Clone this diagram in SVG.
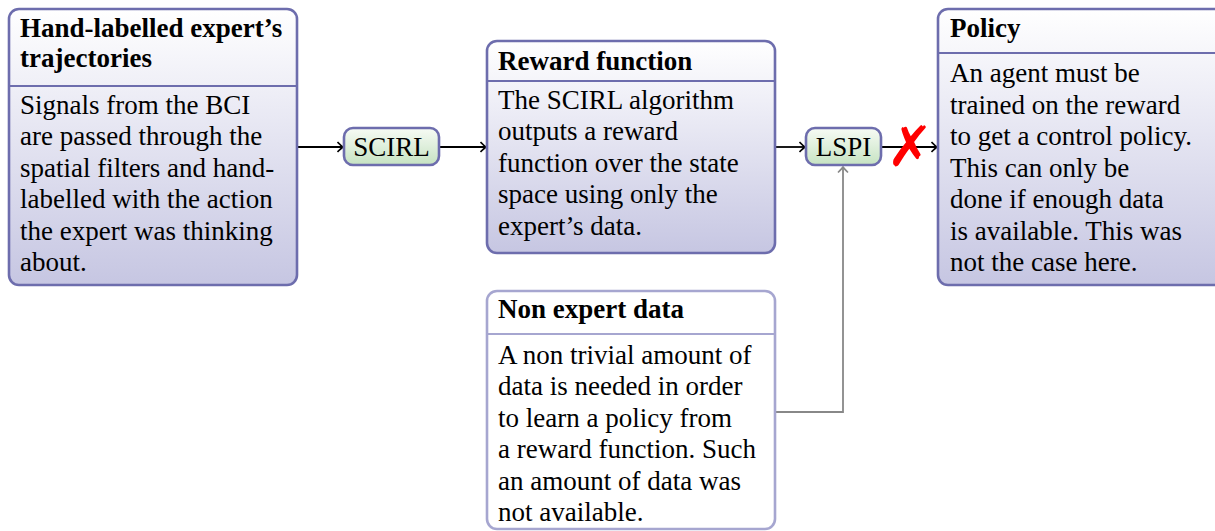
<svg xmlns="http://www.w3.org/2000/svg" width="1215" height="531" viewBox="0 0 1215 531">
<style>
text{font-family:"Liberation Serif","Times New Roman",serif;font-size:27px;fill:#000}
.h{font-weight:bold}
.box{stroke:#6d6dad;stroke-width:2.6;fill:url(#gb)}
.box2{stroke:#a6a6d0;stroke-width:2.6;fill:#fff}
.div{stroke:#6d6dad;stroke-width:2}
.div2{stroke:#a6a6d0;stroke-width:2}
.op{stroke:#6d6dad;stroke-width:2.6;fill:url(#gg)}
.c{text-anchor:middle}
.arr{stroke:#000;stroke-width:1.8;fill:none;marker-end:url(#ah)}
.garr{stroke:#888;stroke-width:1.8;fill:none;marker-end:url(#ahg)}
.x{font-family:"DejaVu Sans",sans-serif;font-size:56px;font-weight:bold;fill:#ff0000}
</style>
<defs>
<linearGradient id="gb" x1="0" y1="0" x2="0" y2="1">
<stop offset="0" stop-color="#ffffff"/>
<stop offset="1" stop-color="#c6c6e2"/>
</linearGradient>
<linearGradient id="gg" x1="0" y1="0" x2="0" y2="1">
<stop offset="0" stop-color="#f7fbf5"/>
<stop offset="1" stop-color="#c6e3c2"/>
</linearGradient>
<marker id="ah" viewBox="-6 -6 8 12" markerWidth="8" markerHeight="12" refX="0.5" refY="0" orient="auto" markerUnits="userSpaceOnUse">
<path d="M-5,-5 Q-1,-1 0.5,0 Q-1,1 -5,5" fill="none" stroke="#000" stroke-width="1.6"/>
</marker>
<marker id="ahg" viewBox="-6 -6 8 12" markerWidth="8" markerHeight="12" refX="0.5" refY="0" orient="auto" markerUnits="userSpaceOnUse">
<path d="M-5,-5 Q-1,-1 0.5,0 Q-1,1 -5,5" fill="none" stroke="#888" stroke-width="1.6"/>
</marker>
</defs>

<g id="connectors">
<path class="arr" d="M297,147 H343"/>
<path class="arr" d="M439,147 H486"/>
<path class="arr" d="M775,147 H805"/>
<path class="arr" d="M881,147 H937"/>
<path class="garr" d="M775,412 H843 V167"/>
<text x="910" y="166" class="c x">✗</text>
</g>

<g id="hand-labelled">
<rect class="box" x="9" y="9" width="288" height="276" rx="10"/>
<line class="div" x1="9" y1="86" x2="297" y2="86"/>
<text class="h" x="20" y="37">Hand-labelled expert’s</text>
<text class="h" x="20" y="67">trajectories</text>
<text x="20" y="114">Signals from the BCI</text>
<text x="20" y="145">are passed through the</text>
<text x="20" y="177">spatial filters and hand-</text>
<text x="20" y="208">labelled with the action</text>
<text x="20" y="240">the expert was thinking</text>
<text x="20" y="271">about.</text>
</g>

<g id="scirl">
<rect class="op" x="344" y="128" width="95" height="37" rx="9"/>
<text class="c" x="391.5" y="156">SCIRL</text>
</g>

<g id="reward-function">
<rect class="box" x="487" y="41" width="288" height="212" rx="10"/>
<line class="div" x1="487" y1="81" x2="775" y2="81"/>
<text class="h" x="498" y="70">Reward function</text>
<text x="498" y="109">The SCIRL algorithm</text>
<text x="498" y="140">outputs a reward</text>
<text x="498" y="172">function over the state</text>
<text x="498" y="203">space using only the</text>
<text x="498" y="235">expert’s data.</text>
</g>

<g id="lspi">
<rect class="op" x="806" y="128" width="75" height="37" rx="9"/>
<text class="c" x="843.5" y="156">LSPI</text>
</g>

<g id="policy">
<rect class="box" x="938" y="9" width="288" height="276" rx="10"/>
<line class="div" x1="938" y1="53" x2="1226" y2="53"/>
<text class="h" x="950" y="37">Policy</text>
<text x="950" y="82">An agent must be</text>
<text x="950" y="114">trained on the reward</text>
<text x="950" y="145">to get a control policy.</text>
<text x="950" y="177">This can only be</text>
<text x="950" y="208">done if enough data</text>
<text x="950" y="240">is available. This was</text>
<text x="950" y="271">not the case here.</text>
</g>

<g id="non-expert-data">
<rect class="box2" x="487" y="291" width="288" height="238" rx="10"/>
<line class="div2" x1="487" y1="334" x2="775" y2="334"/>
<text class="h" x="498" y="318">Non expert data</text>
<text x="498" y="364">A non trivial amount of</text>
<text x="498" y="395">data is needed in order</text>
<text x="498" y="427">to learn a policy from</text>
<text x="498" y="458">a reward function. Such</text>
<text x="498" y="490">an amount of data was</text>
<text x="498" y="521">not available.</text>
</g>
</svg>
